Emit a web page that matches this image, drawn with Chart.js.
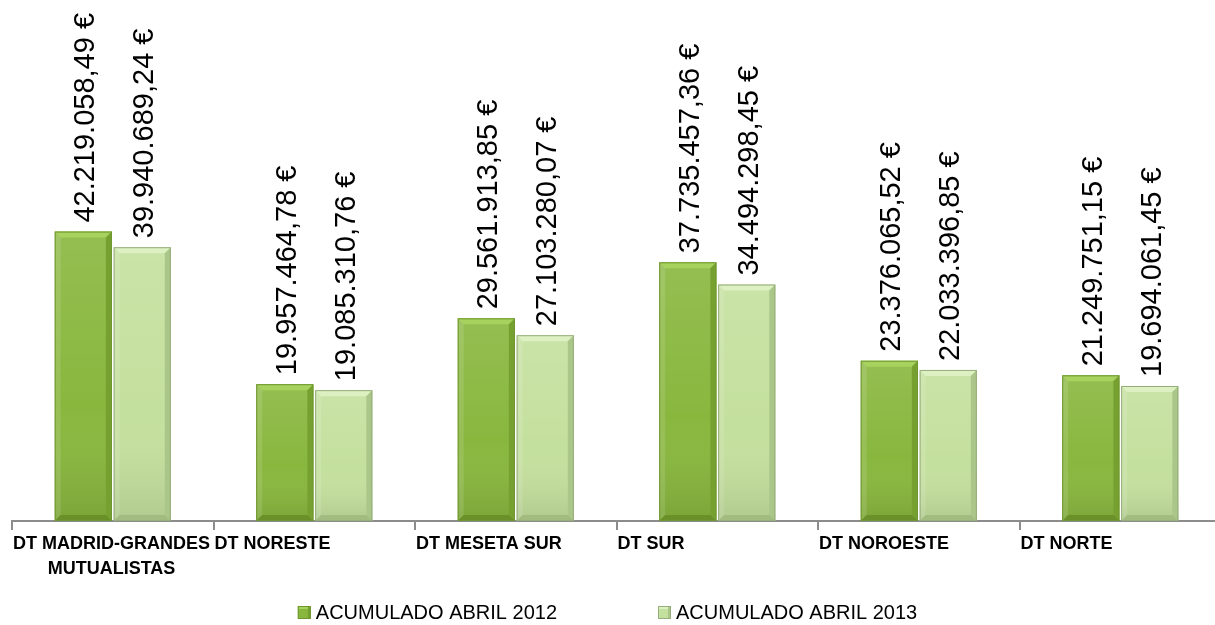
<!DOCTYPE html>
<html>
<head>
<meta charset="utf-8">
<script src="https://cdn.jsdelivr.net/npm/chart.js"></script>
<style>
  body { margin: 0; overflow: hidden; background: #fff; }
  #wrap { width: 1222px; height: 625px; }
</style>
</head>
<body>
<div id="wrap"><canvas id="chart" width="1222" height="625"></canvas></div>
<script>
const categories = [['DT MADRID-GRANDES', 'MUTUALISTAS'], 'DT NORESTE', 'DT MESETA SUR', 'DT SUR', 'DT NOROESTE', 'DT NORTE'];
const seriesNames = ['ACUMULADO ABRIL 2012', 'ACUMULADO ABRIL 2013'];
const values2012 = [42219058.49, 19957464.78, 29561913.85, 37735457.36, 23376065.52, 21249751.15];
const values2013 = [39940689.24, 19085310.76, 27103280.07, 34494298.45, 22033396.85, 19694061.45];

// look of each series: body, top bevel, right edge, bottom shade
const looks = [
    { body: '#89b73e', top: '#a8d25e', side: '#76a131', bottom: '#6a9129', line: '#6f9630' },
    { body: '#c4e09e', top: '#ddf0c2', side: '#abc689', bottom: '#a2bc80', line: '#96ad7c' }
];

const FONT = '"Liberation Sans", Arial, sans-serif';

function euro(v) {
    const parts = v.toFixed(2).split('.');
    const int = parts[0].replace(/\B(?=(\d{3})+(?!\d))/g, '.');
    return int + ',' + parts[1] + ' €';
}

const bevelPlugin = {
    id: 'bevel',
    afterDatasetsDraw(chart) {
        const ctx = chart.ctx;
        chart.data.datasets.forEach((ds, di) => {
            const look = looks[di];
            chart.getDatasetMeta(di).data.forEach(bar => {
                const l = bar.x - bar.width / 2, r = bar.x + bar.width / 2;
                const t = bar.y, b = bar.base, e = 6;
                ctx.save();
                // vertical shading
                const g = ctx.createLinearGradient(0, t, 0, b);
                g.addColorStop(0, 'rgba(255,255,255,0.10)');
                g.addColorStop(0.6, 'rgba(255,255,255,0)');
                g.addColorStop(1, 'rgba(0,0,0,0.10)');
                ctx.fillStyle = g;
                ctx.fillRect(l, t, r - l, b - t);
                // top bevel
                ctx.fillStyle = look.top;
                ctx.beginPath();
                ctx.moveTo(l, t); ctx.lineTo(r, t); ctx.lineTo(r - e, t + e); ctx.lineTo(l + e, t + e);
                ctx.closePath(); ctx.fill();
                // right edge
                ctx.fillStyle = look.side;
                ctx.beginPath();
                ctx.moveTo(r, t); ctx.lineTo(r, b); ctx.lineTo(r - e, b - e); ctx.lineTo(r - e, t + e);
                ctx.closePath(); ctx.fill();
                // left edge
                ctx.fillStyle = 'rgba(255,255,255,0.12)';
                ctx.beginPath();
                ctx.moveTo(l, t); ctx.lineTo(l + e, t + e); ctx.lineTo(l + e, b - e); ctx.lineTo(l, b);
                ctx.closePath(); ctx.fill();
                // bottom
                ctx.fillStyle = look.bottom;
                ctx.beginPath();
                ctx.moveTo(l, b); ctx.lineTo(l + e, b - e); ctx.lineTo(r - e, b - e); ctx.lineTo(r, b);
                ctx.closePath(); ctx.fill();
                ctx.strokeStyle = look.line;
                ctx.lineWidth = 1;
                ctx.strokeRect(l + 0.5, t + 0.5, r - l - 1, b - t - 1);
                ctx.restore();
            });
        });
    }
};

const valueLabels = {
    id: 'valueLabels',
    afterDatasetsDraw(chart) {
        const ctx = chart.ctx;
        ctx.save();
        ctx.font = '29px ' + FONT;
        ctx.fillStyle = '#000';
        ctx.textAlign = 'left';
        ctx.textBaseline = 'alphabetic';
        chart.data.datasets.forEach((ds, di) => {
            chart.getDatasetMeta(di).data.forEach((bar, i) => {
                ctx.save();
                ctx.translate(bar.x + 11, bar.y - 9);
                ctx.rotate(-Math.PI / 2);
                ctx.fillText(euro(ds.data[i]), 0, 0);
                ctx.restore();
            });
        });
        ctx.restore();
    }
};

const categoryLabels = {
    id: 'categoryLabels',
    afterDraw(chart) {
        const ctx = chart.ctx;
        const xs = chart.scales.x;
        const step = (xs.right - xs.left) / categories.length;
        ctx.save();
        ctx.font = 'bold 18px ' + FONT;
        ctx.fillStyle = '#000';
        ctx.textBaseline = 'alphabetic';
        categories.forEach((c, i) => {
            const lines = Array.isArray(c) ? c : [c];
            const left = xs.getPixelForValue(i) - step / 2 + 1;
            const w0 = ctx.measureText(lines[0]).width;
            lines.forEach((line, k) => {
                const w = ctx.measureText(line).width;
                ctx.fillText(line, left + (w0 - w) / 2, xs.top + 28 + k * 25);
            });
        });
        ctx.restore();
    }
};

const legendPlugin = {
    id: 'customLegend',
    afterDraw(chart) {
        const ctx = chart.ctx;
        ctx.save();
        ctx.font = '20px ' + FONT;
        ctx.textBaseline = 'alphabetic';
        const box = 13, gapIcon = 5, gapItem = 101;
        const widths = seriesNames.map(n => box + gapIcon + ctx.measureText(n).width);
        const total = widths[0] + widths[1] + gapItem;
        let x = (1215 - total) / 2;
        const base = 619;
        seriesNames.forEach((n, i) => {
            const look = looks[i];
            ctx.fillStyle = look.body;
            ctx.fillRect(x, base - box, box, box);
            ctx.fillStyle = look.top;
            ctx.fillRect(x, base - box, box, 3);
            ctx.fillStyle = look.side;
            ctx.fillRect(x + box - 3, base - box, 3, box);
            ctx.strokeStyle = look.line;
            ctx.strokeRect(x + 0.5, base - box + 0.5, box - 1, box - 1);
            ctx.fillStyle = '#000';
            ctx.fillText(n, x + box + gapIcon, base);
            x += widths[i] + gapItem;
        });
        ctx.restore();
    }
};

new Chart(document.getElementById('chart'), {
    type: 'bar',
    data: {
        labels: categories,
        datasets: [
            { label: seriesNames[0], data: values2012, backgroundColor: looks[0].body, borderWidth: 0 },
            { label: seriesNames[1], data: values2013, backgroundColor: looks[1].body, borderWidth: 0 }
        ]
    },
    options: {
        responsive: false,
        animation: false,
        devicePixelRatio: 1,
        datasets: { bar: { categoryPercentage: 0.585, barPercentage: 0.97 } },
        layout: { padding: { left: 12, right: 1, top: 0, bottom: 0 } },
        plugins: { legend: { display: false }, tooltip: { enabled: false } },
        scales: {
            x: {
                offset: true,
                grid: { display: true, drawOnChartArea: false, drawTicks: true, tickLength: 9, color: '#8c8c8c', lineWidth: 2, offset: true },
                border: { display: true, color: '#8c8c8c', width: 2 },
                ticks: { display: false },
                afterFit(scale) { scale.height = 104; }
            },
            y: { display: false, min: 0, max: 76000000 }
        }
    },
    plugins: [bevelPlugin, valueLabels, categoryLabels, legendPlugin]
});
</script>
</body>
</html>
